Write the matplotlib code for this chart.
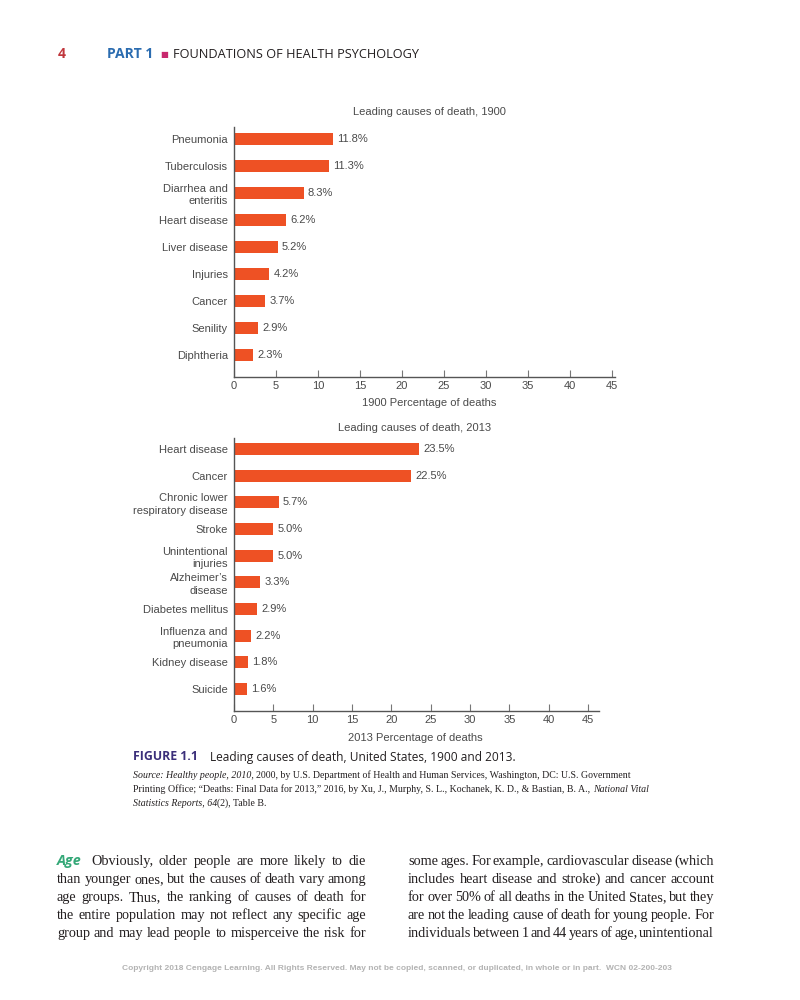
import matplotlib
matplotlib.use('Agg')
import matplotlib.pyplot as plt

W, H = 800, 1000

# chart data
causes_1900 = ['Pneumonia', 'Tuberculosis', 'Diarrhea and\nenteritis', 'Heart disease',
               'Liver disease', 'Injuries', 'Cancer', 'Senility', 'Diphtheria']
pct_1900 = [11.8, 11.3, 8.3, 6.2, 5.2, 4.2, 3.7, 2.9, 2.3]

causes_2013 = ['Heart disease', 'Cancer', 'Chronic lower\nrespiratory disease', 'Stroke',
               'Unintentional\ninjuries', 'Alzheimer\u2019s\ndisease', 'Diabetes mellitus',
               'Influenza and\npneumonia', 'Kidney disease', 'Suicide']
pct_2013 = [23.5, 22.5, 5.7, 5.0, 5.0, 3.3, 2.9, 2.2, 1.8, 1.6]

xticks = list(range(0, 50, 5))

# page text
caption = 'Leading causes of death, United States, 1900 and 2013.'
source_lines = [
    '*Source: Healthy people, 2010,* 2000, by U.S. Department of Health and Human Services, Washington, DC: U.S. Government',
    'Printing Office; \u201cDeaths: Final Data for 2013,\u201d 2016, by Xu, J., Murphy, S. L., Kochanek, K. D., & Bastian, B. A., *National Vital*',
    '*Statistics Reports, 64*(2), Table B.',
]
left_col = [
    'Obviously, older people are more likely to die',
    'than younger ones, but the causes of death vary among',
    'age groups. Thus, the ranking of causes of death for',
    'the entire population may not reflect any specific age',
    'group and may lead people to misperceive the risk for',
]
right_col = [
    'some ages. For example, cardiovascular disease (which',
    'includes heart disease and stroke) and cancer account',
    'for over 50% of all deaths in the United States, but they',
    'are not the leading cause of death for young people. For',
    'individuals between 1 and 44 years of age, unintentional',
]
copyright_txt = ('Copyright 2018 Cengage Learning. All Rights Reserved. May not be copied, '
                 'scanned, or duplicated, in whole or in part.  WCN 02-200-203')

BAR = '#ee5124'
INK = '#4a4a4a'
SANS = 'Liberation Sans'
SERIF = 'Liberation Serif'
HEAD = 'Open Sans'

fig = plt.figure(figsize=(8, 10), dpi=100)
fig.patch.set_facecolor('white')
renderer = fig.canvas.get_renderer()


def fx(x):
    return x / W


def fy(y):
    return 1 - y / H


def chart(box, xmax, ylims, causes, pct, bar_h, title, title_xy, xlabel, xlabel_y):
    left, right, top, bottom = box
    ax = fig.add_axes([fx(left), fy(bottom), (right - left) / W, (bottom - top) / H])
    pos = list(range(len(causes)))
    bars = ax.barh(pos, pct, height=bar_h, color=BAR, edgecolor='none')
    ax.bar_label(bars, labels=['%.1f%%' % v for v in pct], padding=3,
                 fontsize=8, family=SANS, color=INK)
    ax.set_xlim(0, xmax)
    ax.set_ylim(*ylims)
    ax.set_yticks(pos)
    ax.set_yticklabels(causes, fontsize=8, family=SANS, color=INK, linespacing=1.3)
    ax.set_xticks(xticks)
    ax.set_xticklabels([str(t) for t in xticks], fontsize=8, family=SANS, color=INK)
    ax.tick_params(axis='x', direction='in', length=5, width=0.8, color='#777777', pad=3)
    ax.tick_params(axis='y', length=0, pad=4.5)
    for s in ['top', 'right']:
        ax.spines[s].set_visible(False)
    for s in ['left', 'bottom']:
        ax.spines[s].set_color('#555555')
        ax.spines[s].set_linewidth(1.0)
    fig.text(fx(title_xy[0]), fy(title_xy[1]), title, ha='center', va='center',
             fontsize=8, family=SANS, color=INK)
    fig.text(fx(title_xy[0]), fy(xlabel_y), xlabel, ha='center', va='center',
             fontsize=8, family=SANS, color=INK)
    return ax


chart((234, 615, 127, 377), 45.36, (8.815, -0.444), causes_1900, pct_1900, 0.48,
      'Leading causes of death, 1900', (429, 112), '1900 Percentage of deaths', 403)
chart((234, 599, 438, 711), 46.4, (9.825, -0.41), causes_2013, pct_2013, 0.45,
      'Leading causes of death, 2013', (415, 428), '2013 Percentage of deaths', 738)


def width_of(t):
    return t.get_window_extent(renderer).width


def space_width(size, family, style='normal'):
    a = fig.text(0, 0, 'x x', fontsize=size, family=family, style=style)
    b = fig.text(0, 0, 'xx', fontsize=size, family=family, style=style)
    w = width_of(a) - width_of(b)
    a.remove()
    b.remove()
    return w


def justified(x0, x1, y, line, size=10.3, family=SERIF, color='#231f20'):
    words = line.split()
    texts = [fig.text(0, fy(y), w, fontsize=size, family=family,
                      color=color, va='baseline') for w in words]
    widths = [width_of(t) for t in texts]
    gap = (x1 - x0 - sum(widths)) / (len(words) - 1)
    x = x0
    for t, w in zip(texts, widths):
        t.set_x(fx(x))
        x += w + gap


def runs_line(x0, y, line, size=7.1, family=SERIF, color='#231f20'):
    # '*' toggles italic; each run is drawn as one text
    x = x0
    sp = space_width(size, family)
    for i, chunk in enumerate(line.split('*')):
        if not chunk:
            continue
        style = 'italic' if i % 2 else 'normal'
        if chunk.startswith(' '):
            x += sp
        t = fig.text(fx(x), fy(y), chunk.strip(), fontsize=size, family=family,
                     style=style, color=color, va='baseline')
        x += width_of(t)
        if chunk.endswith(' '):
            x += sp


# page header
fig.text(fx(58), fy(54), '4', fontsize=10, family=HEAD, weight='bold', color='#c0363c', va='center')
fig.text(fx(107), fy(54), 'PART 1', fontsize=10, family=HEAD, weight='bold', color='#2b6cb0', va='center')
fig.text(fx(160), fy(54), '\u25a0', fontsize=6, family='DejaVu Sans', color='#c8286e', va='center')
fig.text(fx(173), fy(54), 'FOUNDATIONS OF HEALTH PSYCHOLOGY', fontsize=9.2, family=HEAD,
         color='#231f20', va='center')

# figure caption
fig.text(fx(133), fy(757), 'FIGURE 1.1', fontsize=8.8, family=HEAD, weight='bold',
         color='#3b2f7a', va='center')
fig.text(fx(210), fy(757), caption, fontsize=8.6, family=HEAD, color='#231f20', va='center')
for i, line in enumerate(source_lines):
    runs_line(133, 778 + 14 * i, line)

# body text, two justified columns
fig.text(fx(57), fy(865), 'Age', fontsize=10.3, family=HEAD, weight='bold', style='italic',
         color='#35a878', va='baseline')
base = [865, 883, 901, 919, 937]
for i, line in enumerate(left_col):
    justified(91 if i == 0 else 57, 366, base[i], line)
for i, line in enumerate(right_col):
    justified(408, 714, base[i], line)

fig.text(fx(397), fy(968), copyright_txt, ha='center', va='center', fontsize=6,
         family=SANS, weight='bold', color='#b3b3b3')

fig.savefig('out.png', dpi=100)
